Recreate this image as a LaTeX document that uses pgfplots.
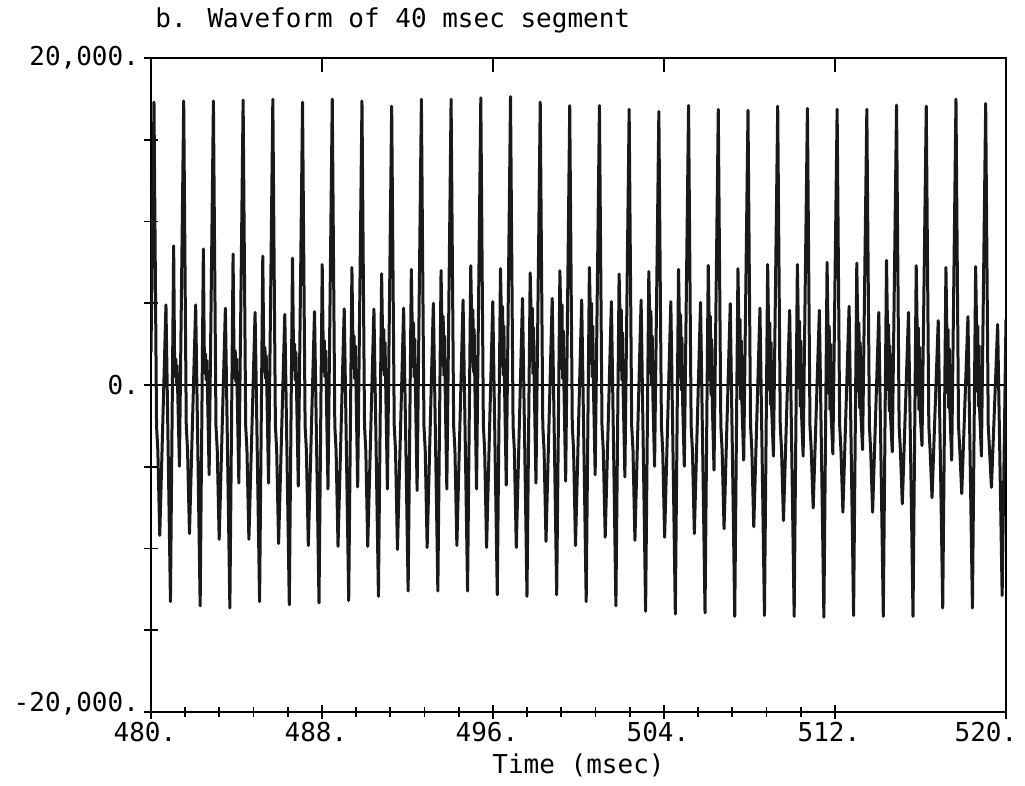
\documentclass[border=0pt]{standalone}
\usepackage{fontspec}
\setmainfont{DejaVu Sans Mono}
\usepackage{pgfplots}
\pgfplotsset{compat=1.18}
\usepackage{pgfplotstable}
\newcommand\lbl{\fontsize{13}{15}\selectfont}

\pgfplotstableread{
t v
480.00 2000
480.14 17300
480.26 -2500
480.32 -4000
480.41 -9200
480.70 4900
480.91 -13250
481.06 8510
481.10 2000
481.13 500
481.16 1600
481.19 100
481.22 1200
481.25 -400
481.33 -4970
481.53 17370
481.65 -2500
481.71 -4000
481.80 -9090
482.09 4900
482.30 -13510
482.45 8320
482.49 2400
482.52 700
482.55 1900
482.58 300
482.61 1500
482.64 -200
482.72 -5490
482.92 17370
483.04 -2500
483.10 -4000
483.19 -9440
483.48 4700
483.69 -13640
483.84 8010
483.88 2200
483.91 400
483.94 2100
483.97 200
484.00 1600
484.03 -300
484.11 -6000
484.31 17430
484.43 -2500
484.49 -4000
484.58 -9440
484.87 4440
485.08 -13250
485.23 7880
485.27 2600
485.30 800
485.33 2300
485.36 400
485.39 1800
485.42 -200
485.50 -6000
485.70 17480
485.82 -2500
485.88 -4000
485.97 -9700
486.26 4320
486.47 -13440
486.62 7760
486.66 2800
486.69 900
486.72 2500
486.75 300
486.78 2000
486.81 -300
486.89 -6180
487.09 17300
487.21 -2500
487.27 -4000
487.36 -9820
487.65 4490
487.86 -13330
488.01 7370
488.05 3000
488.08 800
488.11 2700
488.14 500
488.17 2100
488.20 -200
488.28 -6360
488.48 17480
488.60 -2500
488.66 -4000
488.75 -9870
489.04 4650
489.25 -13180
489.40 7190
489.44 3200
489.47 1000
489.50 3000
489.53 400
489.56 2400
489.59 -100
489.67 -6240
489.87 17370
489.99 -2500
490.05 -4000
490.14 -9870
490.43 4650
490.64 -12930
490.79 6810
490.83 3300
490.86 900
490.89 3400
490.92 600
490.95 2600
490.98 0
491.06 -6360
491.26 17050
491.38 -2500
491.44 -4000
491.53 -10060
491.82 4700
492.03 -12600
492.18 7070
492.22 3600
492.25 1100
492.28 3800
492.31 500
492.34 2800
492.37 -100
492.45 -6450
492.65 17480
492.77 -2500
492.83 -4000
492.92 -9940
493.21 5000
493.42 -12600
493.57 7000
493.61 3800
493.64 1200
493.67 4200
493.70 600
493.73 3000
493.76 0
493.84 -6360
494.04 17480
494.16 -2500
494.22 -4000
494.31 -9820
494.60 5200
494.81 -12600
494.96 7300
495.00 4200
495.03 1400
495.06 4600
495.09 800
495.12 3400
495.15 200
495.23 -6360
495.43 17560
495.55 -2500
495.61 -4000
495.70 -9940
495.99 5100
496.20 -12830
496.35 7120
496.39 4400
496.42 1200
496.45 4800
496.48 600
496.51 3600
496.54 0
496.62 -6120
496.82 17640
496.94 -2500
497.00 -4000
497.09 -9940
497.38 5300
497.59 -12930
497.74 6860
497.78 4500
497.81 1500
497.84 4700
497.87 700
497.90 3500
497.93 100
498.01 -6000
498.21 17300
498.33 -2500
498.39 -4000
498.48 -9560
498.77 5300
498.98 -12830
499.13 6990
499.17 4300
499.20 1000
499.23 4900
499.26 400
499.29 3300
499.32 -200
499.40 -5880
499.59 17090
499.71 -2500
499.77 -4000
499.86 -9820
500.15 5200
500.36 -13250
500.51 7190
500.55 4600
500.58 1300
500.61 5000
500.64 500
500.67 3600
500.70 -100
500.78 -5490
500.98 17090
501.10 -2500
501.16 -4000
501.25 -9310
501.54 5100
501.75 -13510
501.90 6790
501.94 4400
501.97 900
502.00 4600
502.03 300
502.06 3200
502.09 -400
502.17 -5620
502.37 16860
502.49 -2500
502.55 -4000
502.64 -9500
502.93 5200
503.14 -13840
503.29 6940
503.33 4200
503.36 700
503.39 4500
503.42 0
503.45 3000
503.48 -700
503.56 -4970
503.76 16730
503.88 -2500
503.94 -4000
504.03 -9310
504.32 5100
504.53 -14010
504.68 7070
504.72 4000
504.75 500
504.78 4300
504.81 -300
504.84 2900
504.87 -900
504.95 -4970
505.15 17090
505.27 -2500
505.33 -4000
505.42 -9090
505.71 5050
505.92 -13940
506.07 7320
506.11 4100
506.14 300
506.17 4200
506.20 -600
506.23 2800
506.26 -1100
506.34 -5210
506.54 16860
506.66 -2500
506.72 -4000
506.81 -8790
507.10 4970
507.31 -14150
507.46 7120
507.50 3900
507.53 0
507.56 4000
507.59 -900
507.62 2700
507.65 -1300
507.73 -4600
507.93 16790
508.05 -2500
508.11 -4000
508.20 -8670
508.49 4700
508.70 -14100
508.85 7370
508.89 3800
508.92 -300
508.95 3800
508.98 -1200
509.01 2600
509.04 -1500
509.12 -4350
509.32 17050
509.44 -2500
509.50 -4000
509.59 -8290
509.88 4570
510.09 -14150
510.24 7370
510.28 4000
510.31 -200
510.34 3900
510.37 -1300
510.40 2700
510.43 -1600
510.51 -4350
510.71 16920
510.83 -2500
510.89 -4000
510.98 -7520
511.27 4570
511.48 -14200
511.63 7500
511.67 3700
511.70 -500
511.73 3600
511.76 -1500
511.79 2500
511.82 -1800
511.90 -4220
512.10 16860
512.22 -2500
512.28 -4000
512.37 -7780
512.66 4820
512.87 -14100
513.02 7450
513.06 3900
513.09 -400
513.12 3800
513.15 -1400
513.18 2600
513.21 -1700
513.29 -3960
513.49 16860
513.61 -2500
513.67 -4000
513.76 -7780
514.05 4440
514.26 -14150
514.41 7620
514.45 4100
514.48 -300
514.51 3700
514.54 -1600
514.57 2400
514.60 -1900
514.68 -4090
514.88 17120
515.00 -2500
515.06 -4000
515.15 -7270
515.44 4440
515.65 -14150
515.80 7300
515.84 3800
515.87 -600
515.90 3500
515.93 -1500
515.96 2300
515.99 -1800
516.07 -3710
516.27 17050
516.39 -2500
516.45 -4000
516.54 -6890
516.83 3940
517.04 -13640
517.19 7190
517.23 3600
517.26 -500
517.29 3400
517.32 -1400
517.35 2200
517.38 -1700
517.46 -4600
517.66 17480
517.78 -2500
517.84 -4000
517.93 -6640
518.22 4180
518.43 -13640
518.58 7240
518.62 3900
518.65 -400
518.68 3600
518.71 -1300
518.74 2400
518.77 -1600
518.85 -4350
519.05 17220
519.17 -2500
519.23 -4000
519.32 -6260
519.61 3700
519.82 -12870
520.00 4000
}\wave

\begin{document}
\begin{tikzpicture}
\path[use as bounding box] (-75.5pt,-37pt) rectangle (437pt,356pt);
\begin{axis}[
  at={(0pt,0pt)}, anchor=south west,
  scale only axis, width=427.5pt, height=327pt,
  xmin=480, xmax=520, ymin=-20000, ymax=20000,
  scaled y ticks=false, scaled x ticks=false,
  axis line style={line width=1.1pt},
  xtick pos=bottom, ytick pos=left,
  tick align=center,
  major tick length=7pt, minor tick length=5pt,
  every tick/.style={line width=0.9pt, black},
  xtick={480,488,496,504,512},
  xticklabels={480.,488.,496.,504.,512.},
  extra x ticks={520},
  extra x tick labels={520.},
  extra x tick style={xticklabel style={xshift=-7pt}},
  minor x tick num=4,
  ytick={-15000,-10000,...,20000},
  yticklabels={{},{},{},{0.},{},{},{},{20{,}000.}},
  extra y ticks={-20000},
  extra y tick labels={{-20{,}000.}},
  extra y tick style={yticklabel style={yshift=4pt}},
  tick label style={font=\lbl},
  xticklabel style={anchor=north, xshift=-3pt, yshift=2pt},
  yticklabel style={anchor=east, xshift=1pt},
  title={b. Waveform of 40 msec segment},
  every axis title/.style={at={(axis description cs:0,1)}, anchor=base west, inner sep=0pt, xshift=2pt, yshift=15pt, font=\lbl},
  xlabel={Time (msec)},
  every axis x label/.style={at={(axis description cs:0.5,0)}, anchor=base, inner sep=0pt, yshift=-31pt, font=\lbl},
]
\addplot[black, line width=0.8pt] coordinates {(480,0) (520,0)};
\addplot[black!90, line width=1.5pt, line join=round, mark=none] table[x=t, y=v] {\wave};
\end{axis}
\begin{axis}[
  at={(0pt,0pt)}, anchor=south west,
  scale only axis, width=427.5pt, height=327pt,
  xmin=480, xmax=520, ymin=-20000, ymax=20000,
  axis x line*=top, axis y line=none,
  axis line style={line width=1.1pt},
  xtick={488,496,504,512}, xticklabels={},
  minor tick num=0,
  tick align=inside, major tick length=7pt,
  every tick/.style={line width=0.9pt, black},
]
\end{axis}
\end{tikzpicture}
\end{document}
